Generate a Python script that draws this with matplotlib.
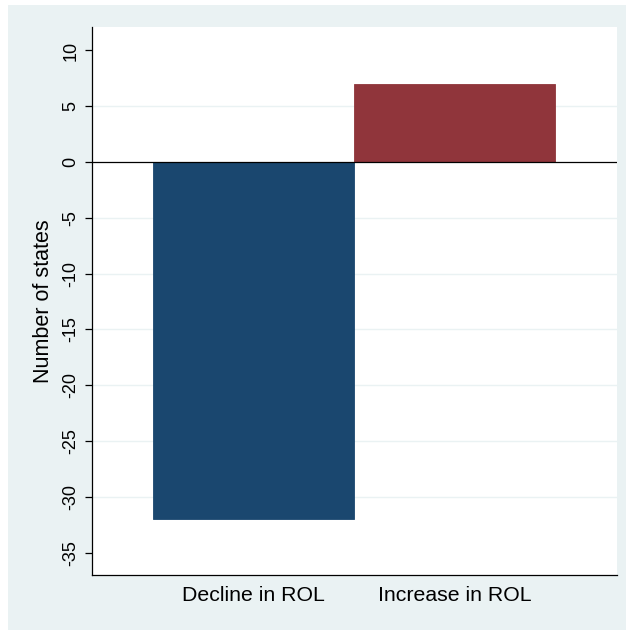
import matplotlib.pyplot as plt
from matplotlib.patches import Rectangle

plt.rcParams['font.family'] = ['Liberation Sans', 'DejaVu Sans']

categories = ['Decline in ROL', 'Increase in ROL']
values = [-32, 7]
colors = ['#1a476f', '#90353b']
yticks = [10, 5, 0, -5, -10, -15, -20, -25, -30, -35]
grid_at = [5, -5, -10, -15, -20, -25, -30]

fig = plt.figure(figsize=(6.26, 6.32), dpi=100)
fig.patch.set_facecolor('white')
# light Stata-style panel behind the plot
fig.patches.append(Rectangle((8 / 626, 2 / 632), 618 / 626, 625 / 632,
                             transform=fig.transFigure, facecolor='#eaf2f3',
                             edgecolor='none', zorder=-1))

ax = fig.add_axes([92 / 626, 1 - 575 / 632, 525 / 626, 548 / 632])
ax.set_facecolor('white')

x = list(range(len(categories)))
ax.bar(x, values, width=1.0, color=colors, edgecolor=colors, linewidth=0.6, zorder=3)

for g in grid_at:
    ax.axhline(g, color='#eaf2f3', linewidth=1.0, zorder=1)
ax.axhline(0, color='black', linewidth=0.9, zorder=4)

ax.set_xlim(-0.5 - 61 / 201, 1.5 + 62 / 201)
ax.set_ylim(-37, 12.1)
ax.set_yticks(yticks)
ax.set_yticklabels([str(t) for t in yticks], rotation=90, va='center', fontsize=13)
ax.set_xticks(x)
ax.set_xticklabels(categories, fontsize=15.3)
ax.tick_params(axis='x', length=0, pad=8)
ax.tick_params(axis='y', length=5, width=0.9, pad=4)
ax.set_ylabel('Number of states', fontsize=15.5, labelpad=6)

for s in ['top', 'right']:
    ax.spines[s].set_visible(False)
ax.spines['left'].set_linewidth(0.9)
ax.spines['bottom'].set_linewidth(0.9)

fig.savefig('out.png', dpi=100, facecolor=fig.get_facecolor())
